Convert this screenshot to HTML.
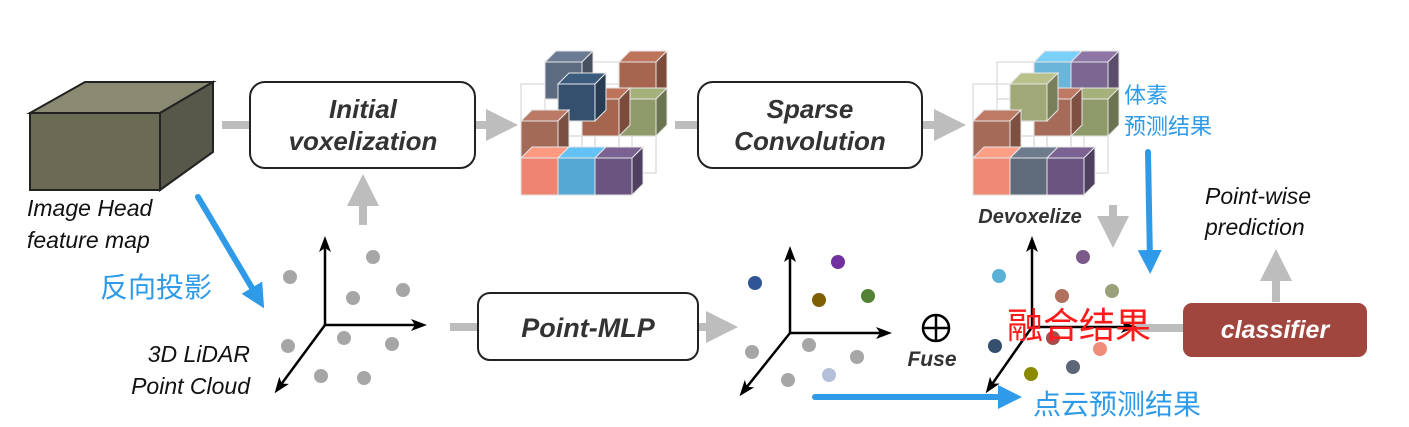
<!DOCTYPE html>
<html><head><meta charset="utf-8"><style>
html,body{margin:0;padding:0;background:#fff;}
svg{display:block;}
.t{font-family:"Liberation Sans","Noto Sans CJK SC",sans-serif;}
.bi{font-weight:bold;font-style:italic;fill:#333;}
.i{font-style:italic;fill:#111;}
.cn{font-family:"Liberation Sans","Noto Sans CJK SC",sans-serif;fill:#2f9be8;}
</style></head><body>
<svg id="s" width="1409" height="427" viewBox="0 0 1409 427" xmlns="http://www.w3.org/2000/svg">
<defs>
<marker id="ga" markerWidth="4" markerHeight="4" refX="2" refY="2" orient="auto" markerUnits="strokeWidth"><path d="M0,0 L4,2 L0,4 z" fill="#bdbdbd"/></marker>
<marker id="ka" viewBox="0 0 16 12" markerWidth="16" markerHeight="12" refX="12" refY="6" orient="auto" markerUnits="userSpaceOnUse"><path d="M0,0 L16,6 L0,12 L4,6 z" fill="#000"/></marker>
<marker id="ba" markerWidth="4" markerHeight="4" refX="2" refY="2" orient="auto" markerUnits="strokeWidth"><path d="M0,0 L4,2 L0,4 z" fill="#2f9be8"/></marker>
</defs>
<polygon points="30,113 85,82 213,82 160,113" fill="#8a8a72" stroke="#222" stroke-width="2"/>
<polygon points="160,113 213,82 213,152 160,190" fill="#58584a" stroke="#222" stroke-width="2"/>
<rect x="30" y="113" width="130" height="77" fill="#6b6b55" stroke="#222" stroke-width="2"/>
<g stroke="#bdbdbd" stroke-width="8" fill="none">
<line x1="222" y1="125" x2="250" y2="125"/>
<line x1="476" y1="125" x2="502" y2="125" marker-end="url(#ga)"/>
<line x1="675" y1="125" x2="698" y2="125"/>
<line x1="923" y1="125" x2="950" y2="125" marker-end="url(#ga)"/>
<line x1="363" y1="225" x2="363" y2="190" marker-end="url(#ga)"/>
<line x1="450" y1="327" x2="478" y2="327"/>
<line x1="699" y1="327" x2="722" y2="327" marker-end="url(#ga)"/>
<line x1="1113" y1="205" x2="1113" y2="232" marker-end="url(#ga)"/>
<line x1="1135" y1="328" x2="1183" y2="328"/>
<line x1="1276" y1="302" x2="1276" y2="265" marker-end="url(#ga)"/>
</g>
<rect x="250" y="82" width="225" height="86" rx="15" fill="#fff" stroke="#222" stroke-width="2"/>
<text class="t bi" x="363" y="118" font-size="26" text-anchor="middle">Initial</text>
<text class="t bi" x="363" y="150" font-size="26" text-anchor="middle">voxelization</text>
<rect x="698" y="82" width="224" height="86" rx="15" fill="#fff" stroke="#222" stroke-width="2"/>
<text class="t bi" x="810" y="118" font-size="26" text-anchor="middle">Sparse</text>
<text class="t bi" x="810" y="150" font-size="26" text-anchor="middle">Convolution</text>
<rect x="478" y="293" width="220" height="67" rx="12" fill="#fff" stroke="#222" stroke-width="2"/>
<text class="t bi" x="588" y="337" font-size="27" text-anchor="middle">Point-MLP</text>
<rect x="1183" y="303" width="184" height="54" rx="9" fill="#a0463e"/>
<text class="t" x="1275" y="338" font-size="25" font-weight="bold" font-style="italic" fill="#fff" text-anchor="middle">classifier</text>
<g id="cubes"></g>
<text class="t i" x="27" y="216" font-size="23">Image Head</text>
<text class="t i" x="27" y="248" font-size="23">feature map</text>
<text class="cn" x="100" y="297" font-size="28">反向投影</text>
<text class="t i" x="250" y="362" font-size="23" text-anchor="end">3D LiDAR</text>
<text class="t i" x="250" y="394" font-size="23" text-anchor="end">Point Cloud</text>
<text class="t bi" x="1030" y="223" font-size="20" text-anchor="middle">Devoxelize</text>
<text class="t i" x="1205" y="204" font-size="23">Point-wise</text>
<text class="t i" x="1205" y="235" font-size="23">prediction</text>
<text class="cn" x="1124" y="103" font-size="22">体素</text>
<text class="cn" x="1124" y="134" font-size="22">预测结果</text>
<circle cx="936" cy="328" r="13" fill="none" stroke="#000" stroke-width="2.5"/>
<line x1="923" y1="328" x2="949" y2="328" stroke="#000" stroke-width="2.5"/>
<line x1="936" y1="315" x2="936" y2="341" stroke="#000" stroke-width="2.5"/>
<text class="t bi" x="932" y="366" font-size="21" text-anchor="middle">Fuse</text>
<g id="pts"></g>
<g stroke="#000" stroke-width="2.5" fill="none">
<line x1="325" y1="325" x2="325" y2="240" marker-end="url(#ka)"/>
<line x1="325" y1="325" x2="423" y2="325" marker-end="url(#ka)"/>
<line x1="325" y1="325" x2="277" y2="390" marker-end="url(#ka)"/>
<line x1="790" y1="333" x2="790" y2="250" marker-end="url(#ka)"/>
<line x1="790" y1="333" x2="888" y2="333" marker-end="url(#ka)"/>
<line x1="790" y1="333" x2="742" y2="393" marker-end="url(#ka)"/>
<line x1="1032" y1="327" x2="1032" y2="240" marker-end="url(#ka)"/>
<line x1="1032" y1="327" x2="1133" y2="327" marker-end="url(#ka)"/>
<line x1="1032" y1="327" x2="988" y2="390" marker-end="url(#ka)"/>
</g>
<g stroke="#2f9be8" stroke-width="6" fill="none" stroke-linecap="round">
<line x1="198" y1="197" x2="258" y2="298" marker-end="url(#ba)"/>
<line x1="1148" y1="152" x2="1150" y2="262" marker-end="url(#ba)"/>
<line x1="815" y1="397" x2="1010" y2="397" marker-end="url(#ba)"/>
</g>
<text x="1007" y="338" font-size="36" fill="#ff1a1a" font-family="Liberation Sans,Noto Sans CJK SC,sans-serif">融合结果</text>
<text class="cn" x="1033" y="414" font-size="28">点云预测结果</text>
</svg>
<script>
var NS="http://www.w3.org/2000/svg";
function el(p,t,a){var e=document.createElementNS(NS,t);for(var k in a)e.setAttribute(k,a[k]);p.appendChild(e);return e;}
function shade(c,f){var n=parseInt(c.slice(1),16),r=n>>16,g=(n>>8)&255,b=n&255;
 r=Math.min(255,Math.round(r*f));g=Math.min(255,Math.round(g*f));b=Math.min(255,Math.round(b*f));
 return "rgb("+r+","+g+","+b+")";}
var G=document.getElementById("cubes");
function cubeSet(ox,oy,list){
 var s=37,k=11,DX=24,DY=-22;
 for(var d=1;d>=0;d--)for(var r=0;r<3;r++)for(var c=0;c<3;c++){
  var x=ox+c*s+d*DX,y=oy-(r+1)*s+d*DY;
  el(G,"rect",{x:x,y:y,width:s,height:s,fill:"none",stroke:"#d8d8d8","stroke-width":1.2});
 }
 list.forEach(function(q){
  var c=q[0],r=q[1],d=q[2],col=q[3];
  var x=ox+c*s+d*DX,y=oy-(r+1)*s+d*DY;
  el(G,"polygon",{points:x+","+y+" "+(x+k)+","+(y-k)+" "+(x+s+k)+","+(y-k)+" "+(x+s)+","+y,fill:shade(col,1.15),stroke:"#e6e6e6","stroke-width":1});
  el(G,"polygon",{points:(x+s)+","+y+" "+(x+s+k)+","+(y-k)+" "+(x+s+k)+","+(y+s-k)+" "+(x+s)+","+(y+s),fill:shade(col,0.75),stroke:"#e6e6e6","stroke-width":1});
  el(G,"rect",{x:x,y:y,width:s,height:s,fill:col,stroke:"#e6e6e6","stroke-width":1});
 });
}
cubeSet(521,195,[[0,2,1,"#5d6b80"],[2,2,1,"#a5654f"],[2,1,1,"#8f9a6a"],[1,1,1,"#a5654f"],[1,2,0,"#34506e"],[0,1,0,"#a36a58"],[0,0,0,"#ef8570"],[1,0,0,"#56a8d4"],[2,0,0,"#6a5580"]]);
cubeSet(973,195,[[1,2,1,"#6bb5da"],[2,2,1,"#7b6790"],[2,1,1,"#8f9a6a"],[1,1,1,"#a66a58"],[1,2,0,"#a0a878"],[0,1,0,"#a66a58"],[0,0,0,"#ef8a74"],[1,0,0,"#5f6b7a"],[2,0,0,"#6a5580"]]);
var P=document.getElementById("pts");
var pts=[[290,277,"#a6a6a6"],[373,257,"#a6a6a6"],[353,298,"#a6a6a6"],[403,290,"#a6a6a6"],[288,346,"#a6a6a6"],[344,338,"#a6a6a6"],[392,344,"#a6a6a6"],[364,378,"#a6a6a6"],[321,376,"#a6a6a6"],
[755,283,"#2f5597"],[838,262,"#7030a0"],[819,300,"#7f6000"],[868,296,"#548235"],[752,352,"#a6a6a6"],[809,345,"#a6a6a6"],[857,357,"#a6a6a6"],[788,380,"#a6a6a6"],[829,375,"#b4c0d8"],
[999,276,"#5bb0d8"],[1083,257,"#7b5a8a"],[1062,296,"#b07060"],[1112,291,"#9aa07a"],[1053,338,"#a05048"],[995,346,"#34506e"],[1100,349,"#f08c7a"],[1031,374,"#8a8a00"],[1073,367,"#5c6676"]];
pts.forEach(function(p){el(P,"circle",{cx:p[0],cy:p[1],r:7,fill:p[2]});});
</script>
</body></html>
